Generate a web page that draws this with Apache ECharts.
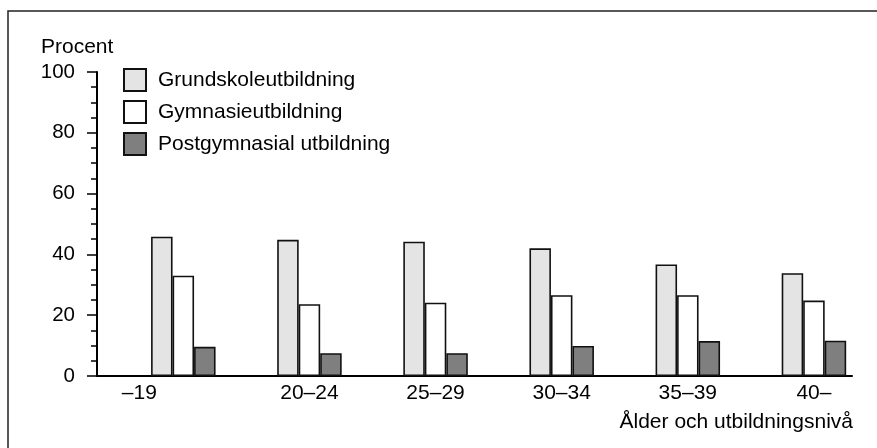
<!DOCTYPE html>
<html>
<head>
<meta charset="utf-8">
<script src="https://cdn.jsdelivr.net/npm/echarts@6/dist/echarts.min.js"></script>
<style>
  html, body { margin: 0; padding: 0; background: #fff; }
  #chart { width: 877px; height: 448px; }
</style>
</head>
<body>
<div id="chart"></div>
<script>
// Age groups along the x axis
var ageGroups = ['–19', '20–24', '25–29', '30–34', '35–39', '40–'];

// Share (percent) per education level in each age group
var grundskola = [45.8, 44.8, 44.2, 42.0, 36.7, 33.8];
var gymnasium = [33.0, 23.6, 24.1, 26.6, 26.6, 24.8];
var postgymnasial = [9.6, 7.5, 7.5, 9.9, 11.5, 11.6];

var seriesNames = ['Grundskoleutbildning', 'Gymnasieutbildning', 'Postgymnasial utbildning'];

// Y axis ticks
var yMin = 0;
var yMax = 100;
var yStep = 20;

var FONT = '"Liberation Sans", Arial, Helvetica, sans-serif';
var INK = '#000';

var chart = echarts.init(document.getElementById('chart'), null, { renderer: 'canvas' });

function barSeries(name, values, fill) {
  return {
    name: name,
    type: 'bar',
    xAxisIndex: 0,
    yAxisIndex: 0,
    data: values,
    barWidth: 21.5,
    barGap: '0%',
    itemStyle: { color: fill, borderColor: '#111', borderWidth: 1.6 },
    emphasis: { disabled: true },
    z: 3
  };
}

var option = {
  animation: false,
  backgroundColor: '#fff',
  textStyle: { fontFamily: FONT },
  graphic: [
    {
      type: 'rect',
      shape: { x: 8, y: 11, width: 900, height: 460 },
      style: { fill: 'none', stroke: '#222', lineWidth: 1.5 },
      silent: true,
      z: -1
    }
  ],
  title: [
    {
      text: 'Procent',
      left: 41, top: 37, padding: 0,
      textStyle: { fontFamily: FONT, fontSize: 21, fontWeight: 'normal', color: INK }
    },
    {
      text: 'Ålder och utbildningsnivå',
      right: 24, top: 412, padding: 0,
      textStyle: { fontFamily: FONT, fontSize: 21, fontWeight: 'normal', color: INK }
    }
  ],
  legend: {
    orient: 'vertical',
    left: 123, top: 68,
    padding: 0,
    itemWidth: 22, itemHeight: 22, itemGap: 8,
    icon: 'rect',
    selectedMode: false,
    data: seriesNames,
    textStyle: { fontFamily: FONT, fontSize: 21, color: INK, padding: [0, 0, 0, 7] }
  },
  grid: [
    // bar area: bands spaced to the group positions
    { left: 120.25, width: 761.4, top: 72, bottom: 72, containLabel: false },
    // frame for the drawn axes
    { left: 97, right: 25, top: 72, bottom: 72, containLabel: false }
  ],
  xAxis: [
    {
      type: 'category',
      gridIndex: 0,
      data: ageGroups,
      axisLine: { show: false },
      axisTick: { show: false },
      axisLabel: {
        color: INK, fontFamily: FONT, fontSize: 21, margin: 7,
        formatter: function (v, i) { return i === 0 ? '{first|' + v + '}' : v; },
        rich: { first: { fontFamily: FONT, fontSize: 21, color: INK, padding: [0, 88, 0, 0] } }
      },
      splitLine: { show: false }
    },
    {
      type: 'value',
      gridIndex: 1,
      min: 0, max: 1,
      axisLine: { show: true, lineStyle: { color: INK, width: 2 } },
      axisTick: { show: false },
      axisLabel: { show: false },
      splitLine: { show: false }
    }
  ],
  yAxis: [
    {
      type: 'value',
      gridIndex: 0,
      min: yMin, max: yMax,
      show: false
    },
    {
      type: 'value',
      gridIndex: 1,
      min: yMin, max: yMax, interval: yStep,
      axisLine: { show: true, lineStyle: { color: INK, width: 2 } },
      axisTick: { show: true, length: 10, lineStyle: { color: INK, width: 1.5 } },
      minorTick: { show: true, splitNumber: 4, length: 6, lineStyle: { color: INK, width: 1.5 } },
      axisLabel: { color: INK, fontFamily: FONT, fontSize: 20.5, margin: 22 },
      splitLine: { show: false },
      minorSplitLine: { show: false }
    }
  ],
  series: [
    barSeries(seriesNames[0], grundskola, '#e4e4e4'),
    barSeries(seriesNames[1], gymnasium, '#ffffff'),
    barSeries(seriesNames[2], postgymnasial, '#7f7f7f')
  ]
};

chart.setOption(option);
</script>
</body>
</html>
